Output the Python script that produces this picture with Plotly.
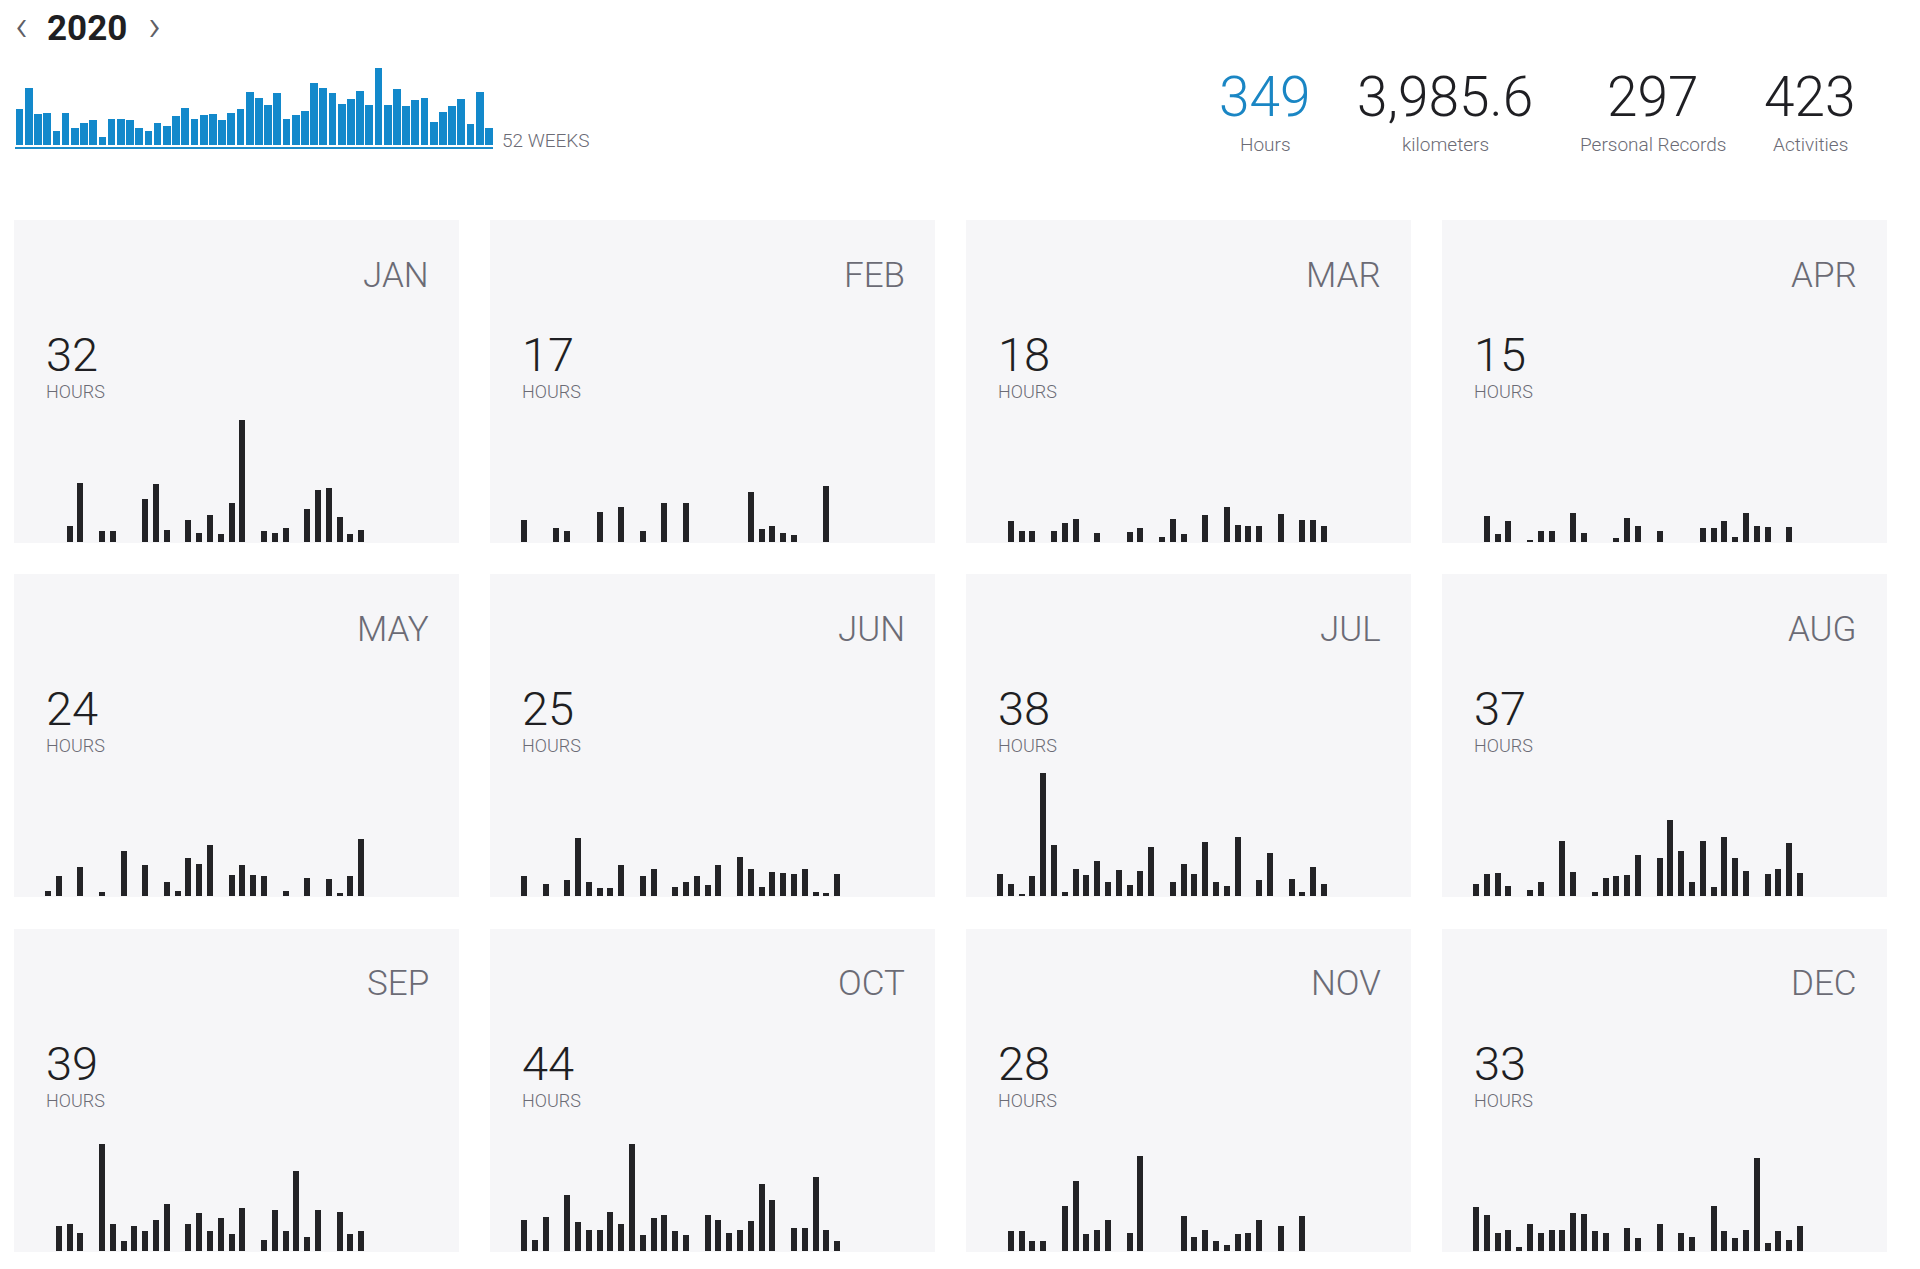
import plotly.graph_objects as go

# ---- data (hours) ----
year_label = "2020"

weekly_hours = [6.8, 10.9, 5.9, 6.0, 2.7, 6.0, 3.2, 4.2, 4.7, 1.5,
                4.9, 4.9, 4.7, 3.2, 2.7, 4.1, 3.6, 5.5, 7.0, 4.9,
                5.6, 5.9, 4.7, 6.1, 6.9, 10.1, 8.9, 7.6, 9.8, 4.9,
                5.6, 6.5, 11.8, 10.9, 9.8, 7.7, 8.8, 10.3, 7.5, 14.6,
                7.6, 10.7, 7.4, 8.5, 8.9, 4.3, 6.2, 7.4, 8.7, 4.0,
                10.1, 3.2]

stat_values = ["349", "3,985.6", "297", "423"]
stat_labels = ["Hours", "kilometers", "Personal Records", "Activities"]

month_names = ["JAN", "FEB", "MAR", "APR", "MAY", "JUN",
               "JUL", "AUG", "SEP", "OCT", "NOV", "DEC"]
month_totals = [32, 17, 18, 15, 24, 25, 38, 37, 39, 44, 28, 33]

jan = [0, 0, 0.78, 2.9, 0, 0.53, 0.53, 0, 0, 2.1, 2.85, 0.58, 0, 1.07, 0.41, 1.29,
       0.38, 1.9, 6.0, 0, 0.5, 0.41, 0.69, 0, 1.62, 2.53, 2.64, 1.2, 0.38, 0.58, 0]
feb = [1.07, 0, 0, 0.66, 0.53, 0, 0, 1.44, 0, 1.72, 0, 0.5, 0, 1.9, 0, 1.9,
       0, 0, 0, 0, 0, 2.43, 0.61, 0.79, 0.41, 0.3, 0, 0, 2.74]
mar = [0, 1.02, 0.53, 0.53, 0, 0.5, 0.91, 1.12, 0, 0.41, 0, 0, 0.48, 0.68, 0, 0.21,
       1.12, 0.38, 0, 1.32, 0, 1.72, 0.83, 0.79, 0.79, 0, 1.34, 0, 1.06, 1.07, 0.79]
apr = [0, 1.27, 0.36, 1.02, 0, 0.08, 0.53, 0.53, 0, 1.4, 0.41, 0, 0, 0.18, 1.14,
       0.79, 0, 0.53, 0, 0, 0, 0.68, 0.68, 1.02, 0.21, 1.4, 0.79, 0.73, 0, 0.73]
may = [0.2, 0.99, 0, 1.42, 0, 0.17, 0, 2.21, 0, 1.5, 0, 0.69, 0.2, 1.88, 1.57, 2.5,
       0, 1.01, 1.49, 1.01, 0.98, 0, 0.2, 0, 0.89, 0, 0.83, 0.1, 0.98, 2.81, 0]
jun = [0.98, 0, 0.58, 0, 0.78, 2.83, 0.66, 0.36, 0.35, 1.5, 0, 0.98, 1.32, 0, 0.4,
       0.69, 0.98, 0.51, 1.5, 0, 1.92, 1.32, 0.4, 1.17, 1.12, 1.07, 1.32, 0.18, 0.1, 1.07]
jul = [1.07, 0.58, 0.08, 0.98, 6.08, 2.51, 0.18, 1.32, 1.01, 1.72, 0.69, 1.27, 0.51,
       1.19, 2.41, 0, 0.69, 1.57, 1.07, 2.64, 0.69, 0.48, 2.91, 0, 0.78, 2.12, 0, 0.81,
       0.18, 1.42, 0.58]
aug = [0.58, 1.07, 1.11, 0.48, 0, 0.28, 0.69, 0, 2.71, 1.17, 0, 0.17, 0.89, 0.98,
       1.01, 2.02, 0, 1.87, 3.75, 2.21, 0.69, 2.71, 0.4, 2.91, 1.88, 1.19, 0, 1.07,
       1.32, 2.61, 1.11]
sep = [0, 1.19, 1.31, 0.89, 0, 5.29, 1.31, 0.46, 1.19, 0.98, 1.5, 2.3, 0, 1.31, 1.88,
       0.98, 1.62, 0.81, 2.12, 0, 0.5, 2.0, 0.98, 3.95, 0.66, 2.0, 0, 1.93, 0.83, 0.99]
oct_ = [1.52, 0.51, 1.64, 0, 2.73, 1.39, 1.01, 1.01, 1.93, 1.31, 5.26, 0.78, 1.62,
        1.74, 0.98, 0.78, 0, 1.74, 1.5, 0.89, 1.01, 1.44, 3.27, 2.5, 0, 1.09, 1.09,
        3.64, 1.01, 0.46, 0]
nov = [0, 0.99, 0.99, 0.46, 0.46, 0, 2.18, 3.42, 0.83, 1.01, 1.52, 0, 0.89, 4.66, 0,
       0, 0, 1.69, 0.69, 1.01, 0.46, 0.28, 0.83, 0.89, 1.52, 0, 1.19, 0, 1.69, 0]
dec = [2.13, 1.74, 0.89, 1.01, 0.17, 1.29, 0.89, 1.01, 1.01, 1.88, 1.8, 0.98, 0.89, 0,
       1.09, 0.6, 0, 1.31, 0, 0.89, 0.69, 0, 2.18, 0.98, 0.6, 1.01, 4.56, 0.35, 0.98,
       0.51, 1.19]

daily_hours = [jan, feb, mar, apr, may, jun, jul, aug, sep, oct_, nov, dec]

# ---- layout constants (pixels) ----
W, H = 1920, 1269
PANEL_W, PANEL_H = 445, 323
COL_X = [14, 490, 966, 1442]
ROW_Y = [220, 574, 929]
DAY_PX = 10.8     # width of one day slot
DAY1_OFFSET = 34  # centre of day 1 from panel left
HOUR_PX = 20.2    # height of one hour in the month panels
WEEK_HOUR_PX = 5.27

FONT = "Roboto"
DARK = "#1f1f23"
GREY = "#6b6b75"
BLUE = "#1a86c4"

axis_off = dict(showgrid=False, zeroline=False, showticklabels=False,
                ticks="", fixedrange=True)

fig = go.Figure()

# weekly overview bars
fig.add_trace(go.Bar(x=list(range(1, len(weekly_hours) + 1)), y=weekly_hours,
                     width=0.84, marker=dict(color="#1389cb", line_width=0),
                     hoverinfo="skip", xaxis="x", yaxis="y"))
fig.update_layout(
    xaxis=dict(domain=[14.5 / W, 493 / W], range=[0.5, 52.5], anchor="y",
               showline=True, linecolor="#1b8bc9", linewidth=2, **axis_off),
    yaxis=dict(domain=[1 - 147 / H, 1 - 45 / H],
               range=[-2 / WEEK_HOUR_PX, 100 / WEEK_HOUR_PX], anchor="x", **axis_off),
)

# month panels
for i, (name, total, days) in enumerate(zip(month_names, month_totals, daily_hours)):
    n = i + 2
    left = COL_X[i % 4]
    top = ROW_Y[i // 4]
    x_lo = 1 - DAY1_OFFSET / DAY_PX
    y_lo = -1.5 / HOUR_PX
    fig.add_trace(go.Bar(x=list(range(1, len(days) + 1)), y=days, width=0.55,
                         marker=dict(color="#232326", line_width=0),
                         hoverinfo="skip", xaxis=f"x{n}", yaxis=f"y{n}"))
    fig.update_layout(**{
        f"xaxis{n}": dict(domain=[left / W, (left + PANEL_W) / W],
                          range=[x_lo, x_lo + PANEL_W / DAY_PX],
                          anchor=f"y{n}", **axis_off),
        f"yaxis{n}": dict(domain=[1 - (top + PANEL_H) / H, 1 - top / H],
                          range=[y_lo, y_lo + PANEL_H / HOUR_PX],
                          anchor=f"x{n}", **axis_off),
    })
    fig.add_shape(type="rect", xref=f"x{n} domain", yref=f"y{n} domain",
                  x0=0, x1=1, y0=0, y1=1, fillcolor="#f6f6f8",
                  line_width=0, layer="below")
    fig.add_annotation(text=name, xref=f"x{n} domain", yref=f"y{n} domain",
                       x=1 - 28 / PANEL_W, y=1 - 55 / PANEL_H,
                       xanchor="right", yanchor="middle", showarrow=False,
                       font=dict(family=FONT, size=35, color=GREY, weight=300))
    fig.add_annotation(text=str(total), xref=f"x{n} domain", yref=f"y{n} domain",
                       x=30 / PANEL_W, y=1 - 134 / PANEL_H,
                       xanchor="left", yanchor="middle", showarrow=False,
                       font=dict(family=FONT, size=47, color=DARK, weight=300))
    fig.add_annotation(text="HOURS", xref=f"x{n} domain", yref=f"y{n} domain",
                       x=30 / PANEL_W, y=1 - 171 / PANEL_H,
                       xanchor="left", yanchor="middle", showarrow=False,
                       font=dict(family=FONT, size=18, color=GREY, weight=300))

# header: year selector
fig.add_annotation(text=year_label, xref="paper", yref="paper", x=45 / W, y=1 - 28.5 / H,
                   xanchor="left", yanchor="middle", showarrow=False,
                   font=dict(family=FONT, size=35, color=DARK, weight=700))
for arrow, ax in (("‹", 21), ("›", 154)):
    fig.add_annotation(text=arrow, xref="paper", yref="paper", x=ax / W, y=1 - 25.9 / H,
                       xanchor="center", yanchor="middle", showarrow=False,
                       font=dict(family=FONT, size=44, color="#5f5f66", weight=300))
fig.add_annotation(text="52 WEEKS", xref="paper", yref="paper", x=500 / W, y=1 - 140 / H,
                   xanchor="left", yanchor="middle", showarrow=False,
                   font=dict(family=FONT, size=19, color=GREY, weight=300))

# header: year totals
stat_x = [1265, 1445, 1653, 1810]
for j, (val, lab, cx) in enumerate(zip(stat_values, stat_labels, stat_x)):
    fig.add_annotation(text=val, xref="paper", yref="paper", x=cx / W, y=1 - 96.5 / H,
                       xanchor="center", yanchor="middle", showarrow=False,
                       font=dict(family=FONT, size=55, color=BLUE if j == 0 else DARK,
                                 weight=300))
    fig.add_annotation(text=lab, xref="paper", yref="paper", x=cx / W, y=1 - 144.5 / H,
                       xanchor="center", yanchor="middle", showarrow=False,
                       font=dict(family=FONT, size=19, color=GREY, weight=300))

fig.update_layout(width=W, height=H, margin=dict(l=0, r=0, t=0, b=0),
                  paper_bgcolor="white", plot_bgcolor="rgba(0,0,0,0)",
                  showlegend=False, bargap=0)

fig.write_html("out.html", config={"displayModeBar": False},
               post_script="document.body.style.margin='0';")
